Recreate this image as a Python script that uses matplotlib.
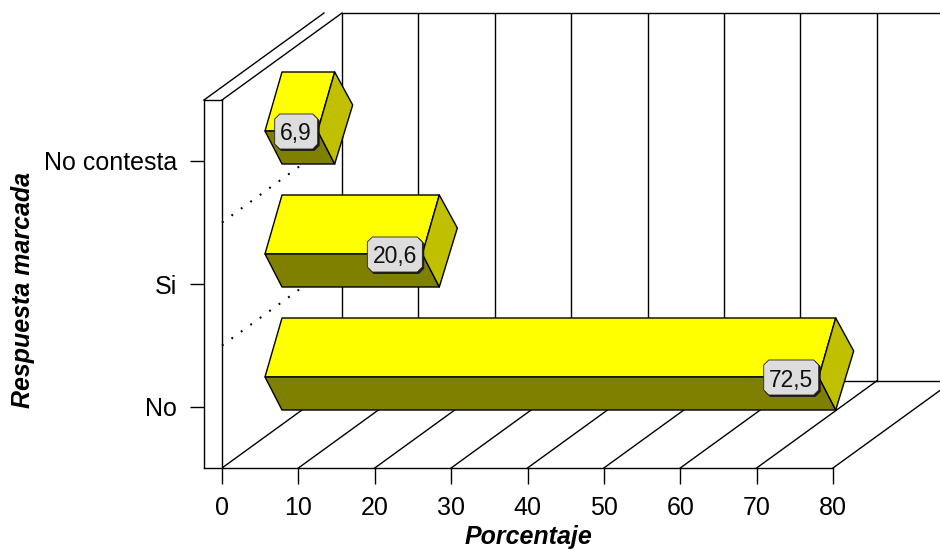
import matplotlib
matplotlib.use('Agg')
import matplotlib.pyplot as plt
from matplotlib.patches import Polygon

categories = ['No', 'Si', 'No contesta']
values = [72.5, 20.6, 6.9]
value_labels = ['72,5', '20,6', '6,9']
x_ticks = [0, 10, 20, 30, 40, 50, 60, 70, 80]

WIDTH, HEIGHT = 940, 549
LEFT, BOTTOM, TOP = 222, 468, 14
UX = 611 / 80  # px per percent
UY = 123  # px per category
PXX = 1 / UX
PXY = 1 / UY
DEPTH_X = 120 * PXX
DEPTH_Y = 87 * PXY
Y_MIN = -61 * PXY

plt.rcParams['font.family'] = ['Liberation Sans', 'DejaVu Sans']

fig = plt.figure(figsize=(WIDTH / 100, HEIGHT / 100), dpi=100)
ax = fig.add_axes([LEFT / WIDTH, (HEIGHT - BOTTOM) / HEIGHT, (WIDTH - LEFT) / WIDTH, (BOTTOM - TOP) / HEIGHT])
ax.set_xlim(0, (WIDTH - LEFT) * PXX)
ax.set_ylim(Y_MIN, Y_MIN + (BOTTOM - TOP) * PXY)
ax.patch.set_visible(False)

LINE = dict(color='black', lw=1.0, solid_capstyle='projecting')
wall_top = Y_MIN + 368 * PXY
back_top = wall_top + DEPTH_Y
back_base = Y_MIN + DEPTH_Y

# back wall and floor
for v in range(0, 90, 10):
    ax.plot([v + DEPTH_X, v + DEPTH_X], [back_base, back_top], zorder=1, clip_on=True, **LINE)
    ax.plot([v, v + DEPTH_X], [Y_MIN, back_base], zorder=1, clip_on=True, **LINE)
ax.axhline(back_base, xmin=DEPTH_X / ax.get_xlim()[1], zorder=1, **LINE)
ax.axhline(back_top, xmin=DEPTH_X / ax.get_xlim()[1], zorder=1, clip_on=False, **LINE)

# side wall
wall_off = -18 * PXX
ax.plot([0, 0], [Y_MIN, wall_top], zorder=1, clip_on=False, **LINE)
ax.plot([wall_off, 0], [wall_top, wall_top], zorder=1, clip_on=False, **LINE)
ax.plot([0, DEPTH_X], [wall_top, back_top], zorder=1, clip_on=False, **LINE)
ax.plot([wall_off, wall_off + DEPTH_X], [wall_top, back_top], zorder=1, clip_on=False, **LINE)

# dotted row lines on the floor of each band
for i in [1, 2]:
    y0 = i - 0.5 + 0.0
    ax.plot([0, DEPTH_X], [y0, y0 + DEPTH_Y], color='black', lw=1.5, zorder=1,
            linestyle=(0, (0.9, 4.7)), clip_on=False)

# bars
for i, val in enumerate(values):
    xs = 60 * PXX
    xl = xs - 17 * PXX
    y_bot = i - 3 * PXY
    y_mid = i + 30 * PXY
    y_top = i + 89 * PXY
    xe = xs + val
    top = [(xs, y_top), (xe, y_top), (xl + val, y_mid), (xl, y_mid)]
    front = [(xl, y_mid), (xl + val, y_mid), (xe, y_bot), (xs, y_bot)]
    side = [(xe, y_top), (xe + 18 * PXX, i + 56 * PXY), (xe, y_bot), (xl + val, y_mid)]
    for pts, col in [(top, '#FFFF00'), (front, '#808000'), (side, '#C0C000')]:
        ax.add_patch(Polygon(pts, closed=True, facecolor=col, edgecolor='black', lw=1.0, zorder=3,
                             joinstyle='round'))

    # value label box, right edge on the inner corner
    w = 43 if len(value_labels[i]) == 3 else 55
    h = 35
    c = 5
    x1 = xl + val
    x0 = x1 - w * PXX
    yb = y_mid - 18 * PXY
    yt = yb + h * PXY
    box = [(x0 + c * PXX, yt), (x1 - c * PXX, yt), (x1, yt - c * PXY), (x1, yb + c * PXY),
           (x1 - c * PXX, yb), (x0 + c * PXX, yb), (x0, yb + c * PXY), (x0, yt - c * PXY)]
    shadow = [(a + 1.5 * PXX, b - 1.5 * PXY) for a, b in box]
    ax.add_patch(Polygon(shadow, closed=True, facecolor='#1a1a1a', edgecolor='#1a1a1a', lw=0.6, zorder=4))
    ax.add_patch(Polygon(box, closed=True, facecolor='#DDDDDD', edgecolor='#222222', lw=0.6, zorder=5))
    ax.text((x0 + x1) / 2, (yb + yt) / 2, value_labels[i], ha='center', va='center_baseline',
            fontsize=16.5, color='#111111', zorder=6)

# axes lines and ticks
for s in ['top', 'right']:
    ax.spines[s].set_visible(False)
ax.spines['left'].set_position(('outward', 18 * 0.72))
ax.spines['left'].set_bounds(Y_MIN, wall_top)
ax.spines['bottom'].set_bounds(wall_off, 80)
for s in ['left', 'bottom']:
    ax.spines[s].set_linewidth(1.0)
    ax.spines[s].set_zorder(2)
ax.set_xticks(x_ticks)
ax.set_yticks(range(len(categories)))
ax.set_yticklabels(categories)
ax.tick_params(axis='x', length=11.5, width=1.0, pad=9, labelsize=18)
ax.tick_params(axis='y', length=10, width=1.0, pad=9.5, labelsize=18)

fig.text(528 / WIDTH, 1 - 537 / HEIGHT, 'Porcentaje', ha='center', va='center', fontsize=18,
         fontweight='bold', fontstyle='italic')
fig.text(23 / WIDTH, 1 - 290 / HEIGHT, 'Respuesta marcada', ha='center', va='center', rotation=90,
         fontsize=18, fontweight='bold', fontstyle='italic')

fig.savefig('out.png', dpi=100)
